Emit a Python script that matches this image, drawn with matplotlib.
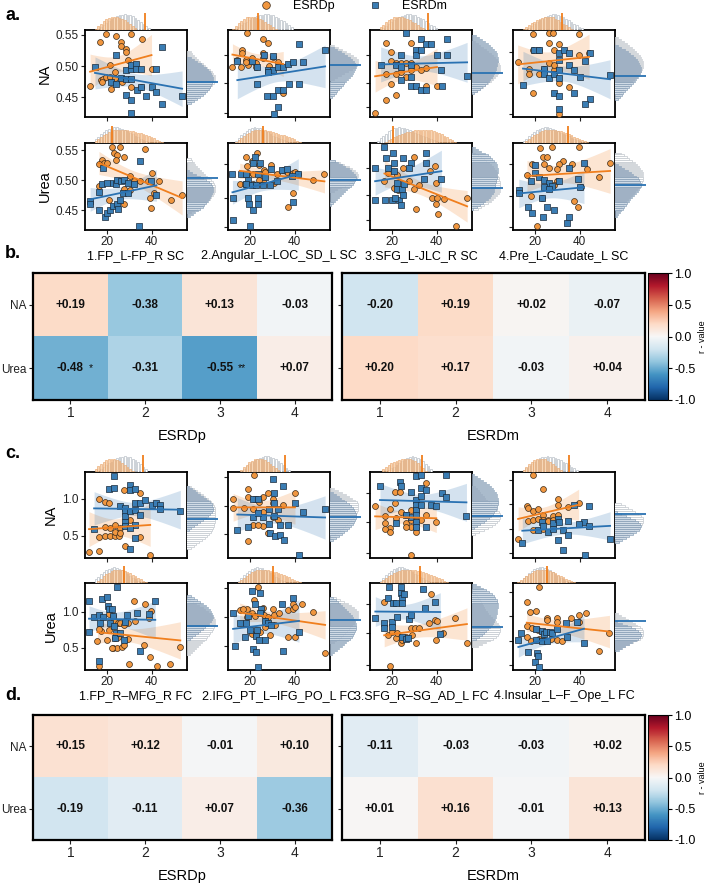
import numpy as np
import matplotlib.pyplot as plt
from matplotlib.lines import Line2D

# ---------------------------------------------------------------
# DATA  (x = connectivity strength, y = NA / Urea)
# ---------------------------------------------------------------
sc_titles = ['1.FP_L-FP_R SC', '2.Angular_L-LOC_SD_L SC', '3.SFG_L-JLC_R SC', '4.Pre_L-Caudate_L SC']
fc_titles = ['1.FP_R\u2013MFG_R FC', '2.IFG_PT_L\u2013IFG_PO_L FC', '3.SFG_R\u2013SG_AD_L FC', '4.Insular_L\u2013F_Ope_L FC']

na_sc1_p = [(12.3,0.468),(16.8,0.538),(19.4,0.552),(23.9,0.549),(26.2,0.538),(26.2,0.533),(30.7,0.551),(28.6,0.527),(28.4,0.523),(35.5,0.543),(21.3,0.502),(23.6,0.491),(17.2,0.477),(18.3,0.479),(19.4,0.482),(21.3,0.483),(23.6,0.481),(17.6,0.475),(21.8,0.463),(30.7,0.467),(35.2,0.467),(40.0,0.496),(26.6,0.475),(29.3,0.510)]
na_sc1_m = [(14.5,0.499),(23.9,0.518),(21.6,0.475),(23.9,0.471),(26.2,0.480),(28.4,0.493),(30.7,0.495),(30.7,0.501),(33.0,0.503),(33.0,0.495),(35.2,0.495),(28.4,0.479),(30.7,0.479),(33.4,0.461),(35.2,0.466),(28.4,0.454),(30.7,0.445),(37.6,0.451),(30.7,0.424),(40.0,0.466),(42.2,0.459),(44.6,0.439),(44.9,0.530),(53.8,0.452),(42.0,0.496)]
na_sc2_p = [(18.6,0.553),(12.0,0.499),(16.3,0.526),(16.5,0.521),(18.3,0.510),(20.6,0.513),(21.6,0.507),(22.8,0.505),(25.9,0.521),(25.9,0.543),(28.1,0.537),(30.4,0.515),(32.7,0.507),(34.9,0.456),(16.0,0.499),(19.1,0.502),(22.8,0.499),(28.6,0.500),(25.9,0.513),(14.1,0.510),(18.3,0.507)]
na_sc2_m = [(14.2,0.508),(20.6,0.508),(23.3,0.499),(26.3,0.518),(28.1,0.493),(30.4,0.516),(30.4,0.493),(32.7,0.499),(34.9,0.499),(37.2,0.503),(39.4,0.507),(44.0,0.507),(53.8,0.526),(42.2,0.535),(23.3,0.471),(27.8,0.452),(30.1,0.452),(32.7,0.462),(34.9,0.462),(37.6,0.471),(42.2,0.471),(32.7,0.434),(30.7,0.423),(28.1,0.491)]
na_sc3_p = [(12.3,0.424),(17.1,0.446),(21.6,0.453),(19.4,0.471),(17.1,0.537),(19.4,0.522),(19.4,0.508),(21.6,0.505),(23.9,0.505),(26.2,0.505),(28.4,0.505),(28.4,0.537),(30.7,0.499),(33.0,0.494),(35.2,0.497),(35.2,0.468),(40.2,0.468),(17.1,0.487),(21.6,0.487),(26.2,0.482),(28.4,0.494),(23.9,0.491)]
na_sc3_m = [(14.8,0.501),(21.6,0.502),(23.9,0.518),(23.9,0.499),(26.2,0.553),(28.4,0.502),(30.7,0.526),(30.7,0.518),(33.0,0.543),(33.0,0.526),(35.2,0.535),(37.5,0.535),(40.2,0.518),(44.7,0.518),(44.7,0.543),(42.2,0.493),(53.8,0.484),(23.9,0.477),(28.4,0.483),(28.4,0.468),(30.7,0.468),(33.0,0.461),(35.2,0.461),(42.5,0.468)]
na_sc4_p = [(12.1,0.506),(19.1,0.551),(26.2,0.553),(28.0,0.553),(39.7,0.551),(26.2,0.537),(30.7,0.535),(19.1,0.526),(21.6,0.526),(28.4,0.526),(39.7,0.518),(44.3,0.521),(17.1,0.496),(23.9,0.496),(28.4,0.494),(17.1,0.487),(21.6,0.487),(30.7,0.472),(35.2,0.466),(19.1,0.456),(30.7,0.423),(26.2,0.505),(28.4,0.502)]
na_sc4_m = [(14.5,0.470),(19.4,0.526),(21.6,0.526),(23.9,0.496),(23.9,0.487),(26.2,0.480),(28.4,0.487),(30.7,0.521),(30.7,0.510),(30.7,0.494),(30.7,0.480),(33.0,0.526),(35.2,0.521),(35.2,0.502),(37.5,0.494),(40.0,0.483),(42.5,0.508),(44.7,0.521),(28.4,0.456),(30.7,0.452),(37.5,0.456),(44.7,0.447),(42.5,0.439),(30.7,0.431),(53.8,0.486)]

urea_sc1_p = [(16.3,0.490),(17.6,0.534),(18.6,0.529),(19.8,0.529),(22.1,0.555),(23.3,0.545),(24.3,0.542),(25.6,0.555),(23.9,0.534),(27.8,0.539),(36.9,0.552),(16.5,0.527),(30.1,0.507),(32.3,0.499),(34.6,0.498),(38.4,0.498),(43.2,0.498),(40.2,0.512),(41.0,0.478),(39.1,0.470),(39.9,0.454),(20.9,0.467),(27.4,0.461),(48.8,0.467),(53.8,0.475),(30.4,0.484),(27.8,0.485)]
urea_sc1_m = [(12.3,0.466),(12.3,0.460),(16.3,0.480),(17.6,0.494),(18.3,0.521),(20.1,0.495),(22.5,0.495),(24.0,0.494),(24.3,0.500),(26.2,0.498),(27.7,0.500),(29.6,0.495),(31.9,0.494),(34.9,0.532),(39.7,0.498),(42.2,0.475),(16.3,0.450),(18.8,0.438),(19.8,0.445),(21.3,0.450),(22.8,0.457),(24.3,0.461),(25.1,0.452),(27.1,0.478),(29.2,0.478),(34.2,0.423),(25.6,0.467)]
urea_sc2_p = [(18.0,0.538),(18.6,0.524),(20.9,0.532),(23.1,0.545),(19.1,0.512),(21.3,0.510),(24.0,0.525),(26.2,0.517),(26.9,0.513),(29.6,0.525),(31.9,0.510),(34.9,0.517),(36.4,0.514),(39.4,0.512),(40.2,0.513),(41.7,0.510),(48.5,0.500),(53.5,0.510),(15.3,0.494),(17.6,0.494),(21.3,0.494),(25.9,0.498),(30.7,0.495),(39.4,0.479),(37.2,0.456),(24.0,0.500)]
urea_sc2_m = [(12.0,0.510),(16.0,0.510),(18.3,0.510),(21.3,0.529),(22.1,0.538),(23.6,0.510),(24.3,0.528),(26.6,0.506),(19.1,0.500),(18.3,0.494),(20.6,0.492),(22.8,0.492),(25.9,0.492),(28.9,0.492),(29.6,0.518),(31.9,0.498),(34.2,0.517),(36.4,0.518),(38.7,0.507),(41.7,0.510),(12.3,0.470),(12.3,0.433),(19.1,0.470),(19.5,0.460),(23.6,0.471),(23.6,0.461),(19.8,0.423),(39.4,0.463),(21.3,0.450)]
urea_sc3_p = [(16.5,0.498),(18.3,0.512),(22.4,0.509),(25.1,0.521),(29.9,0.539),(27.4,0.498),(29.9,0.485),(32.3,0.492),(36.9,0.516),(39.4,0.524),(39.9,0.495),(37.9,0.470),(40.2,0.471),(43.5,0.468),(39.7,0.461),(30.8,0.452),(40.7,0.444),(53.8,0.471),(49.0,0.423),(20.6,0.487),(22.8,0.484)]
urea_sc3_m = [(12.3,0.520),(16.3,0.555),(17.1,0.537),(18.3,0.520),(20.3,0.545),(21.0,0.528),(25.1,0.537),(28.4,0.528),(27.8,0.521),(35.2,0.546),(35.2,0.528),(34.2,0.502),(42.2,0.502),(12.3,0.467),(16.8,0.467),(19.8,0.467),(23.3,0.467),(24.0,0.459),(25.1,0.475),(22.4,0.495),(22.4,0.485),(24.3,0.485),(25.4,0.494),(21.3,0.470),(20.6,0.516)]
urea_sc4_p = [(22.1,0.553),(27.7,0.555),(39.7,0.555),(23.6,0.538),(25.4,0.538),(18.6,0.527),(23.9,0.527),(32.7,0.532),(30.7,0.527),(29.9,0.518),(36.7,0.527),(43.5,0.518),(53.8,0.528),(48.8,0.506),(16.3,0.509),(26.2,0.520),(29.9,0.498),(40.5,0.489),(17.9,0.473),(23.1,0.470),(37.5,0.465),(39.3,0.456),(20.6,0.423),(28.4,0.492)]
urea_sc4_m = [(12.6,0.484),(12.6,0.479),(17.9,0.498),(19.8,0.512),(19.7,0.525),(21.9,0.506),(23.9,0.500),(26.2,0.495),(27.7,0.490),(23.9,0.488),(26.2,0.485),(30.7,0.498),(35.2,0.521),(39.4,0.502),(42.0,0.528),(40.2,0.488),(16.8,0.456),(18.6,0.446),(23.1,0.470),(25.4,0.456),(28.4,0.451),(23.4,0.438),(35.2,0.438),(34.5,0.429)]

na_fc1_p = [(11.8,0.281),(16.3,0.290),(16.3,0.993),(18.8,0.962),(21.0,0.939),(16.3,0.491),(18.8,0.500),(21.3,0.500),(23.6,0.500),(25.4,0.500),(23.6,0.558),(25.9,0.603),(21.3,0.603),(18.8,0.617),(23.6,0.648),(27.8,1.127),(30.4,0.715),(34.9,1.074),(34.9,0.491),(39.4,0.245),(28.1,0.366),(25.9,0.545)]
na_fc1_m = [(14.1,0.590),(23.3,1.311),(20.6,1.141),(23.3,1.150),(25.6,0.903),(28.1,0.872),(28.1,0.836),(28.1,0.769),(28.1,0.693),(28.1,0.635),(30.4,1.186),(30.4,1.118),(30.4,0.836),(32.7,1.141),(32.7,0.948),(32.7,0.850),(34.9,0.939),(34.9,0.782),(37.2,0.984),(40.0,0.917),(42.2,0.939),(44.0,0.917),(44.0,0.859),(53.0,0.841),(30.4,0.321),(32.7,0.469),(32.7,0.648),(30.4,0.603)]
na_fc2_p = [(12.3,0.993),(19.1,1.141),(19.1,1.020),(21.6,1.320),(21.6,0.993),(23.1,0.993),(25.9,1.029),(28.1,1.074),(30.4,0.993),(30.4,0.939),(34.9,0.917),(40.2,1.083),(12.3,0.872),(17.1,0.872),(21.3,0.859),(25.9,0.827),(25.9,0.635),(21.3,0.648),(23.6,0.648),(19.1,0.433),(30.4,0.760),(32.7,0.715),(28.1,0.536),(24.0,0.962)]
na_fc2_m = [(14.2,0.581),(19.1,0.626),(21.3,0.993),(23.6,1.006),(25.9,0.751),(28.6,0.859),(28.6,0.662),(30.7,1.083),(30.7,0.939),(30.7,0.769),(32.7,0.859),(34.9,1.172),(30.4,1.275),(33.4,0.648),(37.2,0.648),(28.9,0.536),(31.1,0.500),(33.4,0.514),(35.4,0.446),(40.2,0.948),(44.0,0.827),(53.8,0.859),(42.2,0.245),(21.3,0.751),(23.6,0.805)]
na_fc3_p = [(12.3,0.903),(16.8,0.769),(19.0,0.859),(19.0,0.612),(21.3,1.096),(23.5,1.096),(21.3,0.948),(23.8,0.827),(21.6,0.738),(26.1,0.782),(26.1,0.670),(28.3,0.850),(28.3,0.715),(28.3,0.617),(30.6,0.850),(30.6,0.715),(30.6,0.603),(32.8,0.715),(35.1,1.217),(35.4,0.782),(39.9,0.693),(16.8,0.670),(16.8,0.590),(19.0,0.558),(26.1,0.617),(28.3,0.245),(30.6,0.558)]
na_fc3_m = [(14.5,1.177),(23.5,1.230),(23.8,1.172),(28.3,1.096),(30.6,1.307),(32.8,1.320),(32.8,1.154),(35.4,1.118),(30.6,0.984),(32.8,1.038),(30.6,0.917),(30.6,0.850),(28.3,0.760),(30.9,0.782),(26.1,0.782),(30.6,0.693),(30.6,0.617),(35.4,0.626),(21.6,0.679),(37.3,0.917),(39.6,0.903),(42.3,1.083),(44.4,1.320),(44.4,1.029),(53.5,0.769),(32.8,0.917)]
na_fc4_p = [(12.3,0.460),(16.5,0.903),(16.8,0.872),(19.1,0.841),(21.3,0.859),(23.6,1.141),(19.1,1.320),(23.6,0.782),(25.9,0.715),(28.1,0.769),(30.4,0.993),(30.4,0.917),(30.4,0.782),(34.9,0.894),(39.6,0.948),(16.8,0.706),(19.1,0.715),(21.3,0.724),(23.6,0.715),(25.9,0.706),(28.1,0.715),(19.1,0.581),(23.6,0.590)]
na_fc4_m = [(14.2,0.402),(21.3,0.581),(23.3,0.693),(25.9,0.558),(28.1,0.590),(28.1,0.679),(30.4,0.724),(30.4,0.446),(30.8,0.693),(32.7,0.581),(34.9,0.706),(34.9,0.514),(37.6,0.917),(42.2,0.693),(44.4,0.635),(39.9,0.661),(32.7,0.312),(42.5,0.245),(53.8,0.455),(44.4,0.903),(23.6,0.635)]

urea_fc1_p = [(16.5,0.249),(17.2,0.739),(15.6,0.596),(16.5,0.758),(21.0,0.966),(22.8,0.942),(23.3,0.873),(25.1,0.841),(20.6,0.748),(23.6,0.633),(24.8,0.647),(25.6,0.841),(27.4,0.818),(28.1,0.873),(29.6,0.850),(32.7,0.873),(31.9,1.155),(37.2,1.104),(39.9,1.012),(38.7,0.910),(29.6,0.619),(22.8,0.494),(24.3,0.494),(26.6,0.517),(27.7,0.540),(29.9,0.277),(36.4,0.540),(39.4,0.370),(42.5,0.249),(48.5,0.277),(53.0,0.508),(19.8,0.610),(22.1,0.494)]
urea_fc1_m = [(11.8,1.155),(11.8,0.725),(16.5,0.319),(14.2,0.933),(16.5,0.956),(17.6,1.173),(18.3,0.933),(19.8,1.210),(20.3,1.081),(21.3,0.850),(22.8,0.942),(23.3,0.804),(24.0,0.711),(23.6,0.633),(25.6,0.702),(27.4,0.610),(28.1,0.864),(28.9,0.956),(33.4,0.979),(34.6,0.462),(38.7,0.966),(41.7,1.155),(20.6,1.035),(16.8,0.841),(22.1,1.035),(24.3,1.350)]
urea_fc2_p = [(18.6,1.035),(18.6,0.933),(21.6,1.164),(23.6,1.340),(20.9,0.979),(22.1,0.942),(25.9,1.049),(26.2,0.956),(28.1,0.933),(30.4,1.035),(30.7,0.956),(33.1,0.979),(37.2,1.026),(39.4,1.035),(39.4,1.104),(40.2,1.072),(43.2,1.104),(48.5,1.003),(53.8,0.434),(15.3,1.026),(16.8,1.035),(26.6,0.795),(28.9,0.679),(31.1,0.818),(37.2,0.656),(40.2,0.647),(20.6,0.693),(22.8,0.679),(24.3,0.725)]
urea_fc2_m = [(12.3,0.979),(13.0,0.527),(15.3,0.841),(17.6,0.647),(18.0,0.850),(19.1,0.942),(19.8,0.748),(20.9,1.289),(22.1,1.104),(22.8,0.665),(23.1,0.748),(24.0,0.610),(25.1,1.035),(24.3,0.979),(26.6,0.878),(26.9,0.610),(21.3,0.480),(22.8,0.448),(23.6,0.240),(28.1,0.850),(29.2,0.818),(34.2,1.104),(39.4,1.187),(42.0,0.725),(34.9,0.462),(24.6,1.257)]
urea_fc3_p = [(16.4,1.132),(18.9,0.249),(21.9,0.633),(23.9,0.573),(24.6,0.610),(26.1,0.656),(28.3,0.772),(30.3,0.781),(32.1,0.772),(36.5,0.850),(37.7,1.243),(39.5,0.887),(39.8,0.610),(40.2,0.873),(42.9,0.702),(48.4,0.919),(53.7,0.573),(17.9,0.679),(20.1,0.725),(22.4,0.702),(29.1,0.679),(30.6,0.573)]
urea_fc3_m = [(12.4,0.919),(16.4,0.841),(16.4,0.772),(18.6,1.349),(18.3,1.197),(20.1,0.864),(20.1,0.795),(20.4,1.127),(21.9,1.118),(22.4,0.924),(23.9,1.349),(23.9,1.257),(24.6,1.197),(24.6,1.118),(25.3,1.247),(27.6,0.896),(28.3,0.956),(34.0,1.312),(35.0,1.058),(39.2,1.141),(41.7,0.693),(24.6,0.647),(26.1,0.628),(27.3,0.633)]
urea_fc4_p = [(16.2,1.132),(17.5,0.992),(20.2,1.006),(21.7,1.340),(16.5,0.804),(18.7,0.772),(21.3,0.748),(23.2,0.725),(25.5,0.910),(25.5,0.887),(30.0,0.910),(30.0,0.864),(36.0,0.910),(39.7,0.956),(43.0,0.979),(39.7,0.864),(53.5,0.711),(48.7,0.462),(16.5,0.647),(18.0,0.601),(21.7,0.619),(24.0,0.610),(27.0,0.619),(30.0,0.610),(31.9,0.601)]
urea_fc4_m = [(12.4,0.610),(13.5,0.711),(16.9,0.448),(20.2,0.610),(20.2,0.758),(21.0,0.434),(19.9,0.310),(21.7,0.240),(21.4,0.388),(23.2,0.739),(24.0,0.693),(24.7,0.725),(26.5,0.725),(27.7,0.711),(30.0,0.758),(34.5,0.647),(33.7,0.850),(39.0,0.864),(42.0,0.573),(23.2,0.601),(25.5,0.601)]

# marginal reference lines (orange vertical on top, blue horizontal on right)
vline_sc_na = [37.0, 23.5, 36.0, 32.0]
vline_sc_urea = [22.0, 25.8, 20.4, 34.8]
vline_fc_na = [36.0, 35.7, 33.4, 35.2]
vline_fc_urea = [27.6, 30.3, 32.6, 25.3]
hline_sc_na = [0.474, 0.502, 0.489, 0.484]
hline_sc_urea = [0.504, 0.500, 0.487, 0.492]
hline_fc_na = [0.728, 0.755, 0.769, 0.796]
hline_fc_urea = [0.804, 0.887, 0.790, 0.873]

# correlation heatmaps
rows_lab = ['NA', 'Urea']
cols_lab = ['1', '2', '3', '4']
r_sc_p = [[0.19, -0.38, 0.13, -0.03], [-0.48, -0.31, -0.55, 0.07]]
r_sc_m = [[-0.20, 0.19, 0.02, -0.07], [0.20, 0.17, -0.03, 0.04]]
r_fc_p = [[0.15, 0.12, -0.01, 0.10], [-0.19, -0.11, 0.07, -0.36]]
r_fc_m = [[-0.11, -0.03, -0.03, 0.02], [0.01, 0.16, -0.01, 0.13]]
stars_sc_p = [['', '', '', ''], ['*', '', '**', '']]

#==============================================================================
#SETTINGS
#==============================================================================
plt.rcParams['font.family'] = ['Liberation Sans', 'DejaVu Sans']
C_P = '#f0963f'
C_PL = '#f07f1e'
C_M = '#3a7db4'
C_ML = '#2a72b2'
W, H = 709, 886
fig = plt.figure(figsize=(W / 100, H / 100), dpi=100)


def fax(x0, y0, x1, y1):
    # axes from pixel box (top-left origin)
    return fig.add_axes([x0 / W, 1 - y1 / H, (x1 - x0) / W, (y1 - y0) / H])


def kde(v, grid, f=1.3):
    v = np.asarray(v)
    bw = f * 1.06 * v.std() * len(v) ** -0.2
    d = np.exp(-0.5 * ((grid[:, None] - v[None, :]) / bw) ** 2).sum(1)
    return d / d.max()


def regline(ax, x, y, col):
    b, a = np.polyfit(x, y, 1)
    xs = np.linspace(x.min(), x.max(), 60)
    n = len(x)
    res = y - (a + b * x)
    s = np.sqrt((res ** 2).sum() / (n - 2))
    se = s * np.sqrt(1 / n + (xs - x.mean()) ** 2 / ((x - x.mean()) ** 2).sum())
    ax.fill_between(xs, a + b * xs - 2.07 * se, a + b * xs + 2.07 * se, color=col, alpha=0.2, lw=0, zorder=1)
    ax.plot(xs, a + b * xs, color=col, lw=1.3, zorder=5)


XL = (10, 56)
col_x = [85, 228, 370, 513]


def scatter_row(top, bot, pts_p, pts_m, ylim, yticks, ytl, ylab, vlines, hlines, titles, ystep):
    for k in range(4):
        x0 = col_x[k]
        ax = fax(x0, top, x0 + 102, bot)
        pp = np.array(pts_p[k])
        pm = np.array(pts_m[k])
        ax.scatter(pp[:, 0], pp[:, 1], s=18, marker='o', color=C_P, edgecolor='#3a2a1a', lw=0.5, zorder=3)
        ax.scatter(pm[:, 0], pm[:, 1], s=18, marker='s', color=C_M, edgecolor='#1a2a3a', lw=0.5, zorder=3)
        regline(ax, pp[:, 0], pp[:, 1], C_PL)
        regline(ax, pm[:, 0], pm[:, 1], C_ML)
        ax.set_xlim(XL)
        ax.set_ylim(ylim)
        ax.set_xticks([20, 40])
        ax.set_yticks(yticks[k])
        if k == 0:
            ax.set_yticklabels(ytl, fontsize=8.5)
            ax.set_ylabel(ylab, fontsize=10.5, labelpad=3)
        else:
            ax.set_yticklabels([])
        if titles is None:
            ax.set_xticklabels([])
        else:
            ax.set_xticklabels(['20', '40'], fontsize=8.5)
            ax.set_xlabel(titles[k], fontsize=9, labelpad=1)
        ax.tick_params(length=3, width=0.8, pad=1.5, colors='#222222')
        for sp in ax.spines.values():
            sp.set_linewidth(1.3)

        # top marginal
        allx = np.concatenate([pp[:, 0], pm[:, 0]])
        gx = np.arange(XL[0], XL[1], 1.2)
        dp = kde(pp[:, 0], gx)
        dm = kde(allx, gx)
        axt = fax(x0, top - 17, x0 + 102, top)
        sel = dm > 0.5
        axt.bar(gx[sel], dm[sel], width=0.8, color='white', edgecolor='#b9c0c8', lw=0.5)
        sel = dp > 0.5
        axt.bar(gx[sel], dp[sel] * 0.92, width=0.8, color='#f6d0ab', edgecolor='#eaa56a', lw=0.5, alpha=0.85)
        axt.plot([vlines[k], vlines[k]], [0.4, 1.05], color=C_PL, lw=1.3)
        axt.set_xlim(XL)
        axt.set_ylim(0.45, 1.05)
        axt.axis('off')

        # right marginal
        ally = np.concatenate([pp[:, 1], pm[:, 1]])
        gy = np.arange(ylim[0], ylim[1], ystep)
        ey = kde(ally, gy)
        bm = kde(pm[:, 1], gy)
        axr = fax(x0 + 102, top, x0 + 133, bot)
        sel = ey > 0.5
        axr.barh(gy[sel], ey[sel], height=ystep * 0.7, color='white', edgecolor='#c2c8ce', lw=0.5)
        sel = bm > 0.5
        axr.barh(gy[sel], bm[sel] * 0.95, height=ystep * 0.7, color='#c8d5e2', edgecolor='#8199b2', lw=0.5, alpha=0.85)
        axr.plot([0.4, 1.05], [hlines[k], hlines[k]], color=C_ML, lw=1.3)
        axr.set_ylim(ylim)
        axr.set_xlim(0.45, 1.05)
        axr.axis('off')


scatter_row(30, 117, [na_sc1_p, na_sc2_p, na_sc3_p, na_sc4_p], [na_sc1_m, na_sc2_m, na_sc3_m, na_sc4_m],
            (0.418, 0.558), [[0.45, 0.50, 0.55], [0.424, 0.473, 0.518], [0.434, 0.473, 0.518], [0.423, 0.473, 0.523]],
            ['0.45', '0.50', '0.55'], 'NA', vline_sc_na, hline_sc_na, None, 0.0032)
scatter_row(143, 230, [urea_sc1_p, urea_sc2_p, urea_sc3_p, urea_sc4_p], [urea_sc1_m, urea_sc2_m, urea_sc3_m, urea_sc4_m],
            (0.417, 0.562), [[0.45, 0.50, 0.55], [0.422, 0.470, 0.527], [0.434, 0.475, 0.520], [0.422, 0.474, 0.527]],
            ['0.45', '0.50', '0.55'], 'Urea', vline_sc_urea, hline_sc_urea, sc_titles, 0.0032)
scatter_row(472, 558, [na_fc1_p, na_fc2_p, na_fc3_p, na_fc4_p], [na_fc1_m, na_fc2_m, na_fc3_m, na_fc4_m],
            (0.20, 1.365), [[0.5, 1.0], [0.525, 0.904, 1.297], [0.268, 0.688, 1.08], [0.268, 0.593, 0.932, 1.257]],
            ['0.5', '1.0'], 'NA', vline_fc_na, hline_fc_na, None, 0.027)
scatter_row(583, 670, [urea_fc1_p, urea_fc2_p, urea_fc3_p, urea_fc4_p], [urea_fc1_m, urea_fc2_m, urea_fc3_m, urea_fc4_m],
            (0.194, 1.40), [[0.5, 1.0], [0.527, 0.929, 1.331], [0.263, 0.707, 1.109], [0.263, 0.596, 0.943, 1.275]],
            ['0.5', '1.0'], 'Urea', vline_fc_urea, hline_fc_urea, fc_titles, 0.027)


def heat(box, vals, show_y, xlab, stars=None):
    ax = fax(*box)
    im = ax.imshow(np.array(vals), cmap='RdBu_r', vmin=-1, vmax=1, aspect='auto')
    for i in range(2):
        for j in range(4):
            ax.text(j, i, f'{vals[i][j]:+.2f}', ha='center', va='center', fontsize=8.5, fontweight='bold', color='#111111')
            if stars is not None and stars[i][j]:
                ax.text(j + 0.24, i, stars[i][j], ha='left', va='center', fontsize=7.5, color='#111111')
    ax.set_xticks(range(4))
    ax.set_xticklabels(cols_lab, fontsize=10)
    ax.set_yticks(range(2))
    if show_y:
        ax.set_yticklabels(rows_lab, fontsize=8.5)
    else:
        ax.set_yticklabels([])
        ax.tick_params(axis='y', length=0)
    ax.set_xlabel(xlab, fontsize=10.5, labelpad=6)
    ax.tick_params(length=3, width=0.8, pad=1.5, colors='#222222')
    for sp in ax.spines.values():
        sp.set_linewidth(1.6)
    return im


def cbar(box, im):
    cax = fax(*box)
    cb = fig.colorbar(im, cax=cax)
    cb.set_ticks([-1, -0.5, 0, 0.5, 1])
    cb.ax.set_yticklabels(['-1.0', '-0.5', '0.0', '0.5', '1.0'], fontsize=9)
    cb.ax.tick_params(length=3, width=0.8, pad=1.5)
    cb.outline.set_linewidth(0.8)
    cb.set_label('r - value', fontsize=6.5, labelpad=2)


im = heat((33, 273, 332, 400), r_sc_p, True, 'ESRDp', stars_sc_p)
heat((342, 273, 645, 400), r_sc_m, False, 'ESRDm')
cbar((648, 273, 668, 400), im)
im = heat((33, 715, 332, 840), r_fc_p, True, 'ESRDp')
heat((342, 715, 645, 840), r_fc_m, False, 'ESRDm')
cbar((648, 715, 668, 840), im)

# legend
handles = [Line2D([], [], marker='o', ls='', color=C_P, mec='#3a2a1a', mew=0.5, ms=5.5, label='ESRDp'),
           Line2D([], [], marker='s', ls='', color=C_M, mec='#1a2a3a', mew=0.5, ms=5, label='ESRDm')]
fig.legend(handles=handles, loc='center', bbox_to_anchor=(350 / W, 1 - 6 / H), ncol=2, frameon=False,
           fontsize=9, columnspacing=2.2, handletextpad=1.2, borderpad=0)

# panel labels
for lab, yy in (('a.', 15), ('b.', 253), ('c.', 453), ('d.', 695)):
    fig.text(5 / W, 1 - yy / H, lab, fontsize=13, fontweight='bold', va='center', ha='left')

fig.savefig('out.png', dpi=100)
